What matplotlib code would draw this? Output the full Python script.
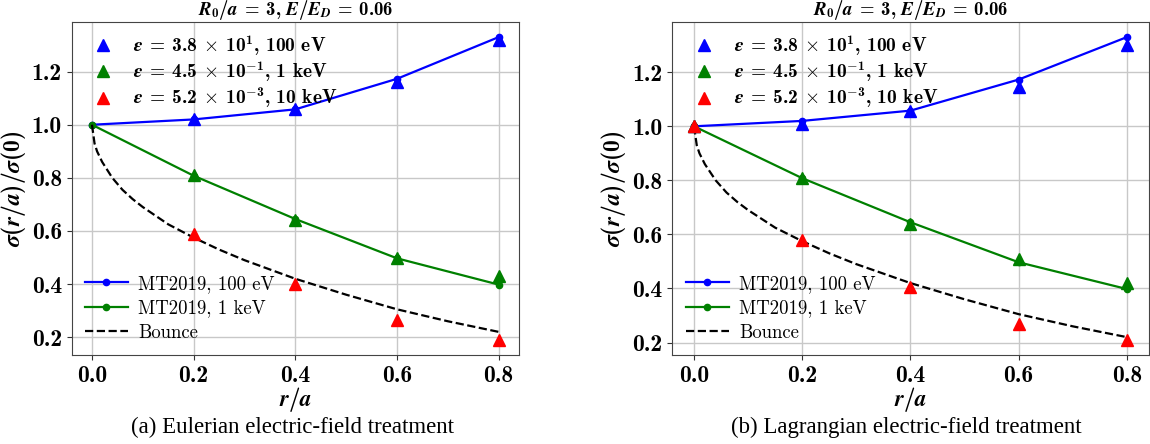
import matplotlib
matplotlib.use("Agg")
import matplotlib.pyplot as plt

plt.rcParams['mathtext.fontset'] = 'custom'
plt.rcParams['mathtext.rm'] = 'cmb10'
plt.rcParams['mathtext.bf'] = 'cmb10'
plt.rcParams['mathtext.it'] = 'STIXGeneral:italic:bold'
plt.rcParams['font.family'] = 'cmb10'
plt.rcParams['axes.unicode_minus'] = False

# radial positions
r_pts = [0.0, 0.2, 0.4, 0.6, 0.8]
r_sim = [0.2, 0.4, 0.6, 0.8]

# MT2019 reference curves (same in both panels)
mt_100eV = [1.0, 1.02, 1.058, 1.173, 1.33]
mt_1keV = [1.0, 0.808, 0.645, 0.497, 0.398]

# bounce-averaged curve
r_bounce = [0.0, 0.005, 0.01, 0.02, 0.04, 0.06, 0.08, 0.1, 0.15, 0.2,
            0.25, 0.3, 0.4, 0.5, 0.6, 0.7, 0.8]
bounce = [1.0, 0.93, 0.90, 0.86, 0.80, 0.755, 0.72, 0.69, 0.625, 0.575,
          0.53, 0.49, 0.42, 0.36, 0.305, 0.26, 0.22]

# (a) Eulerian
eul_r = r_sim
eul_100eV = [1.02, 1.06, 1.16, 1.32]
eul_1keV = [0.81, 0.64, 0.50, 0.43]
eul_10keV = [0.59, 0.40, 0.265, 0.19]

# (b) Lagrangian
lag_r = r_pts
lag_100eV = [1.0, 1.01, 1.055, 1.145, 1.30]
lag_1keV = [1.0, 0.81, 0.64, 0.51, 0.42]
lag_10keV = [1.0, 0.58, 0.405, 0.27, 0.21]

labels_eps = [r'$\epsilon\;=\;3.8\;\times\;10^{1}$, 100 eV',
              r'$\epsilon\;=\;4.5\;\times\;10^{-1}$, 1 keV',
              r'$\epsilon\;=\;5.2\;\times\;10^{-3}$, 10 keV']
captions = ['(a) Eulerian electric-field treatment',
            '(b) Lagrangian electric-field treatment']

fig = plt.figure(figsize=(11.5, 4.44), dpi=100)
ax_a = fig.add_axes([0.0623, 0.2005, 0.389, 0.75])
ax_b = fig.add_axes([0.5847, 0.2005, 0.414, 0.75])


def draw(ax, rs, s100, s1k, s10k, caption, cx):
    l1, = ax.plot(r_pts, mt_100eV, '-o', color='blue', lw=1.6, ms=4.5,
                  label='MT2019, 100 eV')
    l2, = ax.plot(r_pts, mt_1keV, '-o', color='green', lw=1.6, ms=4.5,
                  label='MT2019, 1 keV')
    l3, = ax.plot(r_bounce, bounce, '--', color='black', lw=1.6,
                  label='Bounce')
    t1, = ax.plot(rs, s100, '^', color='blue', ms=8.5, ls='none')
    t2, = ax.plot(rs, s1k, '^', color='green', ms=8.5, ls='none')
    t3, = ax.plot(rs, s10k, '^', color='red', ms=8.5, ls='none')

    ax.set_xticks([0.0, 0.2, 0.4, 0.6, 0.8])
    ax.set_yticks([0.2, 0.4, 0.6, 0.8, 1.0, 1.2])
    ax.tick_params(labelsize=17, colors='#333333', labelcolor='black',
                   labelfontfamily='cmb10', length=3.5)
    ax.grid(True, color='#c8c8c8', lw=1.0)
    for sp in ax.spines.values():
        sp.set_color('#444444')
    ax.set_xlabel(r'$r/a$', fontsize=16.5, labelpad=-1)
    ax.set_ylabel(r'$\sigma(r/a)/\sigma(0)$', fontsize=17, labelpad=3)
    ax.set_title(r'$R_0/a\;=\;3,\,E/E_D\;=\;0.06$', fontsize=13.5, pad=5)

    leg1 = ax.legend([t1, t2, t3], labels_eps, loc='upper left',
                     frameon=False, prop={'family': 'cmb10', 'size': 14},
                     handletextpad=0.55, labelspacing=0.1,
                     borderaxespad=0.2, bbox_to_anchor=(0.0, 1.0))
    ax.add_artist(leg1)
    ax.legend([l1, l2, l3], ['MT2019, 100 eV', 'MT2019, 1 keV', 'Bounce'],
              loc='lower left', frameon=False,
              prop={'family': 'cmr10', 'size': 13.5},
              handlelength=2.3, labelspacing=0.35, handletextpad=0.55,
              borderaxespad=0.4, borderpad=0.3)
    fig.text(cx, 0.038, caption, ha='center', va='center',
             fontsize=16.5, family='Liberation Serif')


draw(ax_a, eul_r, eul_100eV, eul_1keV, eul_10keV, captions[0], 0.254)
draw(ax_b, lag_r, lag_100eV, lag_1keV, lag_10keV, captions[1], 0.788)

fig.savefig('out.png', dpi=100)
